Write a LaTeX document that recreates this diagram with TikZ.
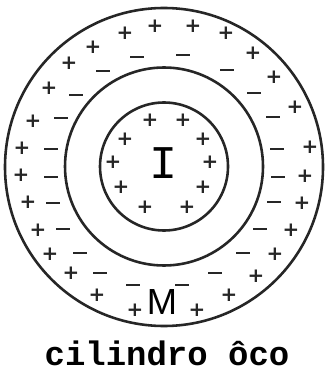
\documentclass[tikz,border=0pt]{standalone}
\usepackage{fontspec}
\newfontfamily\signfont{DejaVu Sans}
\newfontfamily\capfont{Liberation Mono}
\newfontfamily\labfont{Liberation Sans}
\tikzset{
  ring/.style={line width=2.2pt, draw=black!85},
  pl/.style={inner sep=0pt, font=\signfont\bfseries\fontsize{17}{17}\selectfont, text=black!85},
  mi/.style={inner sep=0pt, minimum width=14.5*0.03cm, minimum height=2.3pt, fill=black!85},
}
\begin{document}
\begin{tikzpicture}[x=0.03cm,y=-0.03cm]
	  \useasboundingbox[fill=white] (0,0) rectangle (326,373);
	  \draw[ring] (164,167) circle[radius=159];
	  \draw[ring] (164,166.5) circle[radius=99];
	  \draw[ring] (164,166.5) circle[radius=64];
	  % inner cylinder
	  \node (I) at (164,163) {\capfont\fontsize{40}{40}\selectfont I};
	  \node[pl] (a1) at (150,120) {+};
	  \node[pl] (a2) at (183,120) {+};
	  \node[pl] (a3) at (125,139) {+};
	  \node[pl] (a4) at (203,139) {+};
	  \node[pl] (a5) at (113,162) {+};
	  \node[pl] (a6) at (210,162) {+};
	  \node[pl] (a7) at (121,187) {+};
	  \node[pl] (a8) at (203,187) {+};
	  \node[pl] (a9) at (145,207) {+};
	  \node[pl] (a10) at (187,207) {+};
	  % outer shell, plus charges
	  \node[pl] (p1) at (125,33) {+};
	  \node[pl] (p2) at (155,26) {+};
	  \node[pl] (p3) at (193,26) {+};
	  \node[pl] (p4) at (226,33) {+};
	  \node[pl] (p5) at (253,53) {+};
	  \node[pl] (p6) at (274,77) {+};
	  \node[pl] (p7) at (295,107) {+};
	  \node[pl] (p8) at (310,147) {+};
	  \node[pl] (p9) at (305,176) {+};
	  \node[pl] (p10) at (302,203) {+};
	  \node[pl] (p11) at (291,230) {+};
	  \node[pl] (p12) at (275,254) {+};
	  \node[pl] (p13) at (256,276) {+};
	  \node[pl] (p14) at (229,295) {+};
	  \node[pl] (p15) at (197,310) {+};
	  \node[pl] (p16) at (135,310) {+};
	  \node[pl] (p17) at (97,295) {+};
	  \node[pl] (p18) at (71,273) {+};
	  \node[pl] (p19) at (50,254) {+};
	  \node[pl] (p20) at (38,230) {+};
	  \node[pl] (p21) at (28,202) {+};
	  \node[pl] (p22) at (21,175) {+};
	  \node[pl] (p23) at (22,148) {+};
	  \node[pl] (p24) at (33,121) {+};
	  \node[pl] (p25) at (49,88) {+};
	  \node[pl] (p26) at (69,63) {+};
	  \node[pl] (p27) at (93,47) {+};
	  % outer shell, minus charges
	  \node[mi] (m1) at (137,57) {};
	  \node[mi] (m2) at (183,55) {};
	  \node[mi] (m3) at (103,71) {};
	  \node[mi] (m4) at (227,70) {};
	  \node[mi] (m5) at (76,95) {};
	  \node[mi] (m6) at (254,93) {};
	  \node[mi] (m7) at (61,118) {};
	  \node[mi] (m8) at (273,117) {};
	  \node[mi] (m9) at (51,149) {};
	  \node[mi] (m10) at (277,149) {};
	  \node[mi] (m11) at (51,177) {};
	  \node[mi] (m12) at (278,177) {};
	  \node[mi] (m13) at (53,203) {};
	  \node[mi] (m14) at (274,202) {};
	  \node[mi] (m15) at (63,229) {};
	  \node[mi] (m16) at (260,229) {};
	  \node[mi] (m17) at (80,253) {};
	  \node[mi] (m18) at (243,253) {};
	  \node[mi] (m19) at (100,273) {};
	  \node[mi] (m20) at (215,273) {};
	  \node[mi] (m21) at (133,285) {};
	  \node[mi] (m22) at (182,285) {};
	  \node (M) at (162,302) {\labfont\fontsize{31}{31}\selectfont M};
	  \node[anchor=base] (cap) at (167,365) {\capfont\bfseries\fontsize{29}{29}\selectfont cilindro ôco};
\end{tikzpicture}
\end{document}
